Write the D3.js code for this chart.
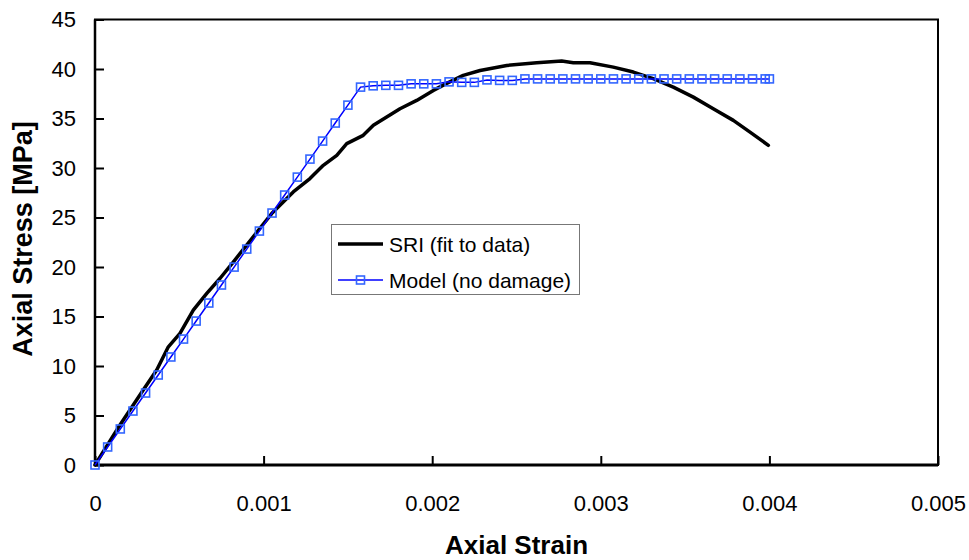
<!DOCTYPE html>
<html>
<head>
<meta charset="utf-8">
<script src="https://cdn.jsdelivr.net/npm/d3@7"></script>
<style>
  body { margin: 0; background: #fff; }
  svg { display: block; font-family: Arial, "Liberation Sans", sans-serif; }
</style>
</head>
<body>
<div id="chart"></div>
<script>
// SRI (fit to data) curve
const sriStrain = [0, 0.000148, 0.000286, 0.000366, 0.000435, 0.000504, 0.000583, 0.000663, 0.000741, 0.00082,
  0.000969, 0.001048, 0.001176, 0.001275, 0.001354, 0.001434, 0.001493, 0.001591, 0.001651, 0.00173,
  0.001809, 0.001908, 0.002007, 0.002086, 0.002184, 0.002284, 0.002442, 0.00262, 0.002768, 0.002837,
  0.002936, 0.003074, 0.003193, 0.003311, 0.00343, 0.003549, 0.003667, 0.003786, 0.003885, 0.003994];
const sriStress = [0, 4.04, 7.57, 9.59, 11.94, 13.29, 15.64, 17.33, 18.84, 20.5,
  23.71, 25.4, 27.58, 28.93, 30.27, 31.28, 32.46, 33.3, 34.31, 35.15,
  35.99, 36.83, 37.84, 38.55, 39.35, 39.85, 40.36, 40.64, 40.8, 40.64,
  40.64, 40.19, 39.69, 39.02, 38.17, 37.16, 35.99, 34.81, 33.63, 32.29];

// Model (no damage) points
const modelStrain = [0, 0.000075, 0.00015, 0.000225, 0.0003, 0.000375, 0.00045, 0.000525, 0.0006, 0.000675,
  0.00075, 0.000825, 0.0009, 0.000975, 0.00105, 0.001125, 0.0012, 0.001275, 0.00135, 0.001425,
  0.0015, 0.001575, 0.00165, 0.001725, 0.0018, 0.001875, 0.00195, 0.002025, 0.0021, 0.002175,
  0.00225, 0.002325, 0.0024, 0.002475, 0.00255, 0.002625, 0.0027, 0.002775, 0.00285, 0.002925,
  0.003, 0.003075, 0.00315, 0.003225, 0.0033, 0.003375, 0.00345, 0.003525, 0.0036, 0.003675,
  0.00375, 0.003825, 0.0039, 0.003975, 0.004];
const modelStress = [0, 1.82, 3.64, 5.45, 7.27, 9.09, 10.91, 12.72, 14.54, 16.36,
  18.18, 19.99, 21.81, 23.63, 25.45, 27.27, 29.08, 30.9, 32.72, 34.54,
  36.35, 38.17, 38.3, 38.35, 38.35, 38.5, 38.5, 38.5, 38.7, 38.65,
  38.65, 38.9, 38.85, 38.85, 39.0, 39.0, 39.0, 39.0, 39.0, 39.0,
  39.0, 39.0, 39.0, 39.0, 39.0, 39.0, 39.0, 39.0, 39.0, 39.0,
  39.0, 39.0, 39.0, 39.0, 39.0];

const xTicks = [0, 0.001, 0.002, 0.003, 0.004, 0.005];
const yTicks = [0, 5, 10, 15, 20, 25, 30, 35, 40, 45];
const seriesNames = ["SRI (fit to data)", "Model (no damage)"];

const width = 969;
const height = 560;
const margin = { top: 19.5, right: 31, bottom: 95, left: 95 };

const sriData = sriStrain.map((d, i) => ({ x: d, y: sriStress[i] }));
const modelData = modelStrain.map((d, i) => ({ x: d, y: modelStress[i] }));

const xScale = d3.scaleLinear()
  .domain([0, 0.005])
  .range([margin.left, width - margin.right]);

const yScale = d3.scaleLinear()
  .domain([0, 45])
  .range([height - margin.bottom, margin.top]);

const svg = d3.select("#chart")
  .append("svg")
  .attr("width", width)
  .attr("height", height);

// axes, ticks pointing inside
const xAxis = d3.axisBottom(xScale)
  .tickValues(xTicks)
  .tickFormat(d => d === 0 ? "0" : d3.format(".3f")(d))
  .tickSizeInner(-9)
  .tickSizeOuter(0)
  .tickPadding(30);

const yAxis = d3.axisLeft(yScale)
  .tickValues(yTicks)
  .tickSizeInner(-9)
  .tickSizeOuter(0)
  .tickPadding(19);

const xAxisGroup = svg.append("g")
  .attr("transform", `translate(0, ${height - margin.bottom})`)
  .call(xAxis);

const yAxisGroup = svg.append("g")
  .attr("transform", `translate(${margin.left}, 0)`)
  .call(yAxis);

[xAxisGroup, yAxisGroup].forEach(g => {
  g.select(".domain").remove();
  g.selectAll(".tick line").attr("stroke", "#000").attr("stroke-width", 2);
  g.selectAll(".tick text")
    .attr("fill", "#000")
    .attr("font-size", 22)
    .attr("font-family", "Arial, 'Liberation Sans', sans-serif");
});

// plot frame
svg.append("rect")
  .attr("x", margin.left)
  .attr("y", margin.top)
  .attr("width", width - margin.right - margin.left)
  .attr("height", height - margin.bottom - margin.top)
  .attr("fill", "none")
  .attr("stroke", "#000")
  .attr("stroke-width", 2);

svg.append("line")
  .attr("x1", margin.left).attr("x2", width - margin.right)
  .attr("y1", height - margin.bottom).attr("y2", height - margin.bottom)
  .attr("stroke", "#000")
  .attr("stroke-width", 3);

svg.append("line")
  .attr("x1", margin.left).attr("x2", margin.left)
  .attr("y1", margin.top).attr("y2", height - margin.bottom)
  .attr("stroke", "#000")
  .attr("stroke-width", 2.5);

// axis titles
svg.append("text")
  .attr("x", (margin.left + width - margin.right) / 2)
  .attr("y", 554)
  .attr("text-anchor", "middle")
  .attr("font-size", 26)
  .attr("font-weight", "bold")
  .text("Axial Strain");

svg.append("text")
  .attr("transform", `translate(32, 239)rotate(-90)`)
  .attr("text-anchor", "middle")
  .attr("font-size", 27)
  .attr("font-weight", "bold")
  .text("Axial Stress [MPa]");

const line = d3.line()
  .x(d => xScale(d.x))
  .y(d => yScale(d.y));

// SRI curve
svg.append("path")
  .datum(sriData)
  .attr("fill", "none")
  .attr("stroke", "#000")
  .attr("stroke-width", 3.5)
  .attr("stroke-linejoin", "round")
  .attr("stroke-linecap", "round")
  .attr("d", line);

// Model line + markers
svg.append("path")
  .datum(modelData)
  .attr("fill", "none")
  .attr("stroke", "#0000ff")
  .attr("stroke-width", 1.5)
  .attr("d", line);

const ms = 8;
svg.append("g")
  .selectAll("rect")
  .data(modelData)
  .join("rect")
  .attr("x", d => xScale(d.x) - ms / 2)
  .attr("y", d => yScale(d.y) - ms / 2)
  .attr("width", ms)
  .attr("height", ms)
  .attr("fill", "none")
  .attr("stroke", "#3366ff")
  .attr("stroke-width", 1.6);

// legend
const legend = svg.append("g");
legend.append("rect")
  .attr("x", 331.5)
  .attr("y", 224.5)
  .attr("width", 248)
  .attr("height", 70)
  .attr("fill", "#fff")
  .attr("stroke", "#777")
  .attr("stroke-width", 1);

legend.append("line")
  .attr("x1", 338).attr("x2", 383)
  .attr("y1", 244).attr("y2", 244)
  .attr("stroke", "#000")
  .attr("stroke-width", 3.5);

legend.append("line")
  .attr("x1", 338).attr("x2", 383)
  .attr("y1", 280).attr("y2", 280)
  .attr("stroke", "#0000ff")
  .attr("stroke-width", 1.5);

legend.append("rect")
  .attr("x", 360.5 - ms / 2)
  .attr("y", 280 - ms / 2)
  .attr("width", ms)
  .attr("height", ms)
  .attr("fill", "none")
  .attr("stroke", "#3366ff")
  .attr("stroke-width", 1.6);

legend.selectAll("text.lbl")
  .data(seriesNames)
  .join("text")
  .attr("class", "lbl")
  .attr("x", 389)
  .attr("y", (d, i) => 251.5 + i * 36)
  .attr("font-size", 21)
  .attr("fill", "#000")
  .text(d => d);
</script>
</body>
</html>
